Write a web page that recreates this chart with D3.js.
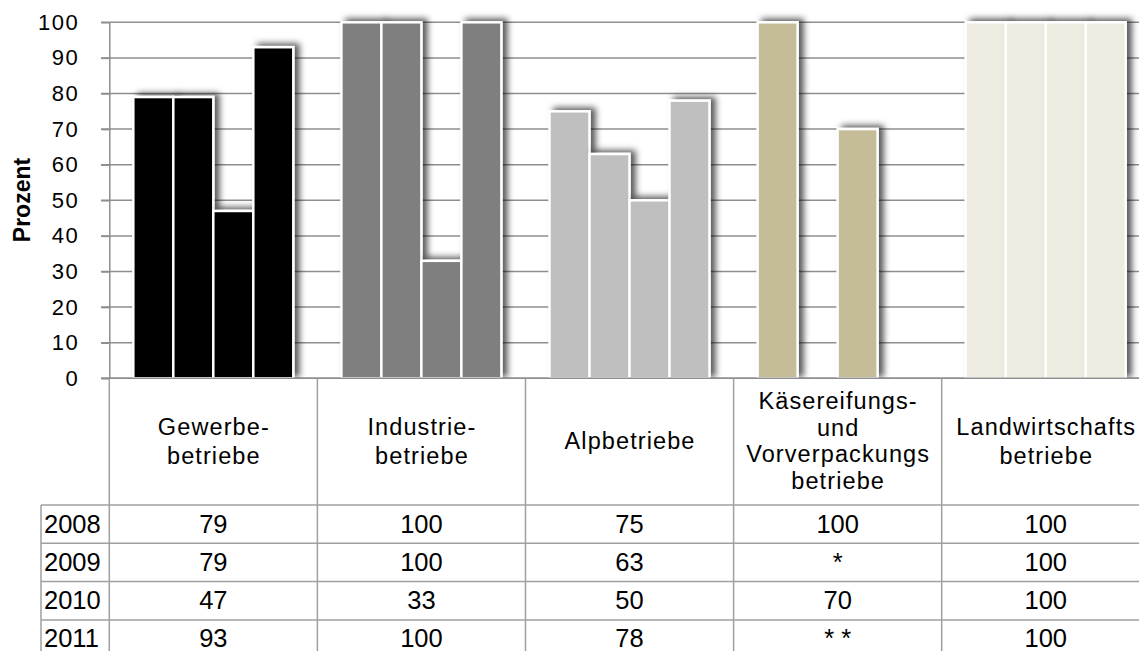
<!DOCTYPE html>
<html><head><meta charset="utf-8">
<script src="https://cdn.jsdelivr.net/npm/d3@7"></script>
<style>
html,body{margin:0;padding:0;background:#fff;}
svg{display:block;font-family:"Liberation Sans",Arial,sans-serif;}
</style></head>
<body>
<svg id="c" width="1139" height="651"></svg>
<script>
// ---- data ----
const categories = ["Gewerbebetriebe","Industriebetriebe","Alpbetriebe","Käsereifungs- und Vorverpackungsbetriebe","Landwirtschaftsbetriebe"];
const categoryLabelLines = [
  ["Gewerbe-","betriebe"],
  ["Industrie-","betriebe"],
  ["Alpbetriebe"],
  ["Käsereifungs-","und","Vorverpackungs","betriebe"],
  ["Landwirtschafts","betriebe"]
];
const years = ["2008","2009","2010","2011"];
const values2008 = [79,100,75,100,100];
const values2009 = [79,100,63,null,100];
const values2010 = [47,33,50,70,100];
const values2011 = [93,100,78,null,100];
const tableText2008 = ["79","100","75","100","100"];
const tableText2009 = ["79","100","63","*","100"];
const tableText2010 = ["47","33","50","70","100"];
const tableText2011 = ["93","100","78","* *","100"];
const categoryColors = ["#000000","#7f7f7f","#bfbfbf","#c4bd97","#eeece1"];
const yTicks = [0,10,20,30,40,50,60,70,80,90,100];
const yTitle = "Prozent";

const seriesByYear = [values2008,values2009,values2010,values2011];
const textByYear = [tableText2008,tableText2009,tableText2010,tableText2011];

// ---- layout ----
const W = 1139, H = 651;
const svg = d3.select("#c");
const band = 208.1, x0 = 109.3;
const x = d3.scaleBand().domain(categories).range([x0, x0 + band*categories.length]);
const xi = d3.scaleBand().domain(years).range([24, 184]);
const y = d3.scaleLinear().domain([0,100]).range([378.3, 22.3]);
const gridColor = "#8e8e8e", tableColor = "#a0a0a0";

const defs = svg.append("defs");
const f = defs.append("filter").attr("id","sh").attr("x","-30%").attr("y","-10%").attr("width","170%").attr("height","120%");
f.append("feDropShadow").attr("dx",5).attr("dy",-2.5).attr("stdDeviation",3.2)
  .attr("flood-color","#000").attr("flood-opacity",0.65);
defs.append("clipPath").attr("id","plotclip").append("rect")
  .attr("x",0).attr("y",0).attr("width",W).attr("height",y(0));

// gridlines
svg.append("g").selectAll("line").data(yTicks).join("line")
  .attr("x1",101).attr("x2",W).attr("y1",d=>y(d)).attr("y2",d=>y(d))
  .attr("stroke",gridColor).attr("stroke-width",1.5);

// y axis
const ax = svg.append("g").attr("transform",`translate(${x0},0)`)
  .call(d3.axisLeft(y).tickValues(yTicks).tickSizeInner(8).tickSizeOuter(0).tickPadding(22));
ax.select(".domain").attr("stroke",gridColor).attr("stroke-width",1.5);
ax.selectAll(".tick line").attr("stroke",gridColor).attr("stroke-width",1.5);
ax.selectAll(".tick text").attr("font-size",22).attr("fill","#000")
  .attr("font-family","Liberation Sans, Arial, sans-serif").style("letter-spacing","1.5px");

// y title
svg.append("text").attr("transform","translate(22,200) rotate(-90)")
  .attr("text-anchor","middle").attr("dominant-baseline","central")
  .attr("font-size",23).attr("font-weight","bold").text(yTitle);

// bars
const bars = svg.append("g").attr("clip-path","url(#plotclip)");
categories.forEach((c,ci)=>{
  years.forEach((yr,yi)=>{
    const v = seriesByYear[yi][ci];
    if (v == null) return;
    bars.append("rect")
      .attr("x", x(c) + xi(yr)).attr("width", xi.bandwidth())
      .attr("y", y(v)).attr("height", y(0) - y(v))
      .attr("fill", categoryColors[ci]).attr("stroke","#fff").attr("stroke-width",2.5)
      .attr("filter","url(#sh)");
  });
});

// table
const tbl = svg.append("g");
const rowTop = 505, rowH = 38.3;
categories.forEach(c=>{
  tbl.append("line").attr("x1",x(c)).attr("x2",x(c)).attr("y1",y(0)).attr("y2",H)
    .attr("stroke",tableColor).attr("stroke-width",1.5);
});
tbl.append("line").attr("x1",41).attr("x2",41).attr("y1",rowTop).attr("y2",H)
  .attr("stroke",tableColor).attr("stroke-width",1.5);
years.forEach((yr,i)=>{
  tbl.append("line").attr("x1",41).attr("x2",W).attr("y1",rowTop+i*rowH).attr("y2",rowTop+i*rowH)
    .attr("stroke",tableColor).attr("stroke-width",1.5);
});
tbl.append("line").attr("x1",101).attr("x2",W).attr("y1",y(0)).attr("y2",y(0))
  .attr("stroke",gridColor).attr("stroke-width",1.5);

// header labels
const headBase = 449;
categories.forEach((c,ci)=>{
  const lines = categoryLabelLines[ci];
  const n = lines.length;
  const lh = n > 2 ? 26.6 : 29;
  lines.forEach((t,li)=>{
    tbl.append("text").attr("x", x(c)+x.bandwidth()/2 + 0.5)
      .attr("y", headBase + (li-(n-1)/2)*lh)
      .attr("text-anchor","middle").attr("font-size",23.5).style("letter-spacing","1.1px")
      .attr("fill","#000").text(t);
  });
});
// row labels and values
years.forEach((yr,i)=>{
  const base = rowTop + i*rowH + 27.5;
  tbl.append("text").attr("x",44).attr("y",base).attr("font-size",25.5).attr("fill","#000").text(yr);
  categories.forEach((c,ci)=>{
    tbl.append("text").attr("x", x(c)+x.bandwidth()/2).attr("y", base)
      .attr("text-anchor","middle").attr("font-size",25.5).attr("fill","#000").text(textByYear[i][ci]);
  });
});
</script>
</body></html>
